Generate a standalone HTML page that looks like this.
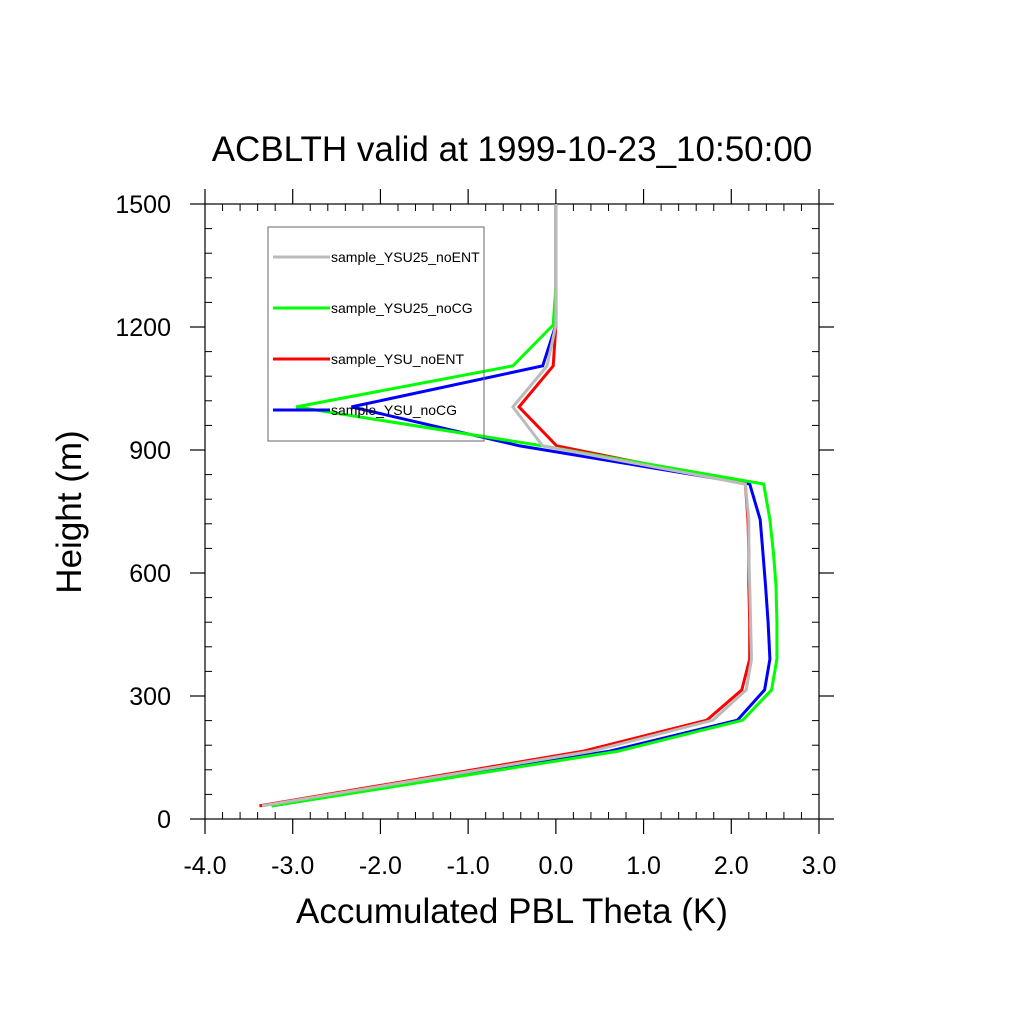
<!DOCTYPE html>
<html><head><meta charset="utf-8"><style>body{margin:0;background:#fff}svg{display:block}</style></head>
<body>
<svg id="chart" width="1024" height="1024" xmlns="http://www.w3.org/2000/svg" font-family="Liberation Sans, sans-serif">
<rect width="1024" height="1024" fill="#fff"/>
<text x="512" y="161" font-size="35" text-anchor="middle">ACBLTH valid at 1999-10-23_10:50:00</text>
<g id="axes"></g>
<g id="series"></g>
<g id="legend"></g>
<text x="512" y="923" font-size="35" text-anchor="middle">Accumulated PBL Theta (K)</text>
<text transform="translate(81,512) rotate(-90)" font-size="35" text-anchor="middle">Height (m)</text>
</svg>
<script>
const heights = [32,165,241,315,390,480,570,650,730,817,910,1005,1105,1205,1300,1400,1500];
const gray  = [-3.35,0.4,1.79,2.17,2.23,2.22,2.21,2.2,2.2,2.16,-0.15,-0.49,-0.1,0.0,0.0,0.0,0.0];
const green = [-3.24,0.7,2.13,2.46,2.52,2.52,2.51,2.48,2.44,2.37,-0.15,-2.96,-0.49,-0.03,0.0,0.0,0.0];
const red   = [-3.38,0.3,1.72,2.12,2.21,2.21,2.2,2.2,2.19,2.16,0.01,-0.42,-0.03,0.0,0.0,0.0,0.0];
const blue  = [-3.24,0.6,2.07,2.38,2.44,2.42,2.39,2.36,2.33,2.21,-0.41,-2.33,-0.15,0.0,0.0,0.0,0.0];
const seriesNames = ["sample_YSU25_noENT","sample_YSU25_noCG","sample_YSU_noENT","sample_YSU_noCG"];
const seriesColors = ["#bbbbbb","#00ff00","#ff0000","#0000ff"];
const xTicks = [-4,-3,-2,-1,0,1,2,3];
const xTickLabels = ["-4.0","-3.0","-2.0","-1.0","0.0","1.0","2.0","3.0"];
const yTicks = [0,300,600,900,1200,1500];

const L=205,R=819,T=204,B=819;
const sx=v=>L+(v+4)/7*(R-L);
const sy=h=>B-h/1500*(B-T);
const NS="http://www.w3.org/2000/svg";
function mk(tag,attrs,parent){const e=document.createElementNS(NS,tag);for(const k in attrs)e.setAttribute(k,attrs[k]);parent.appendChild(e);return e;}
const ax=document.getElementById('axes');
const frame=mk('rect',{x:L,y:T,width:R-L,height:B-T,fill:'none',stroke:'#000','stroke-width':1.2},ax);


for(let i=0;i<=35;i++){const v=-4+i*0.2,x=sx(v);const major=i%5===0;
 [[B,-1],[T,1]].forEach(([y0,d])=>{if(!major){const t=mk('line',{x1:x,x2:x,y1:y0,y2:y0+d*7,stroke:'#000'},ax);}
 else{const t=mk('line',{x1:x,x2:x,y1:y0,y2:y0-d*15,stroke:'#000','stroke-width':1.2},ax);}});}
xTicks.forEach((v,i)=>{const t=mk('text',{x:sx(v),y:874,'font-size':25,'text-anchor':'middle'},ax);t.textContent=xTickLabels[i];
 
 });
for(let h=0;h<=1500;h+=60){const y=sy(h);const major=h%300===0;
 [[L,1],[R,-1]].forEach(([x0,d])=>{if(major){const t=mk('line',{x1:x0,x2:x0-d*15,y1:y,y2:y,stroke:'#000','stroke-width':1.2},ax);}
 else{const t=mk('line',{x1:x0,x2:x0+d*7,y1:y,y2:y,stroke:'#000'},ax);}});}
yTicks.forEach(h=>{const t=mk('text',{x:171,y:sy(h)+9,'font-size':25,'text-anchor':'end'},ax);t.textContent=String(h);
 
 });
const sg=document.getElementById('series');
const lg=document.getElementById('legend');
const box=mk('rect',{x:268,y:227,width:216,height:214,fill:'none',stroke:'#666','stroke-width':1},lg);


const all=[gray,green,red,blue];
[3,2,1,0].forEach(i=>{
 const arr=all[i];
 const pts=arr.map((v,j)=>sx(v).toFixed(1)+','+sy(heights[j]).toFixed(1)).join(' ');
 const pl=mk('polyline',{points:pts,fill:'none',stroke:seriesColors[i],'stroke-width':3,'stroke-linejoin':'miter'},sg);
 
 
});
all.forEach((arr,i)=>{
 const y=257+i*51;
 const ll=mk('line',{x1:273,x2:330,y1:y,y2:y,stroke:seriesColors[i],'stroke-width':3},lg);
 
 
 const lt=mk('text',{x:331,y:y+5,'font-size':14},lg);lt.textContent=seriesNames[i];
 
 
});
</script>
</body></html>
